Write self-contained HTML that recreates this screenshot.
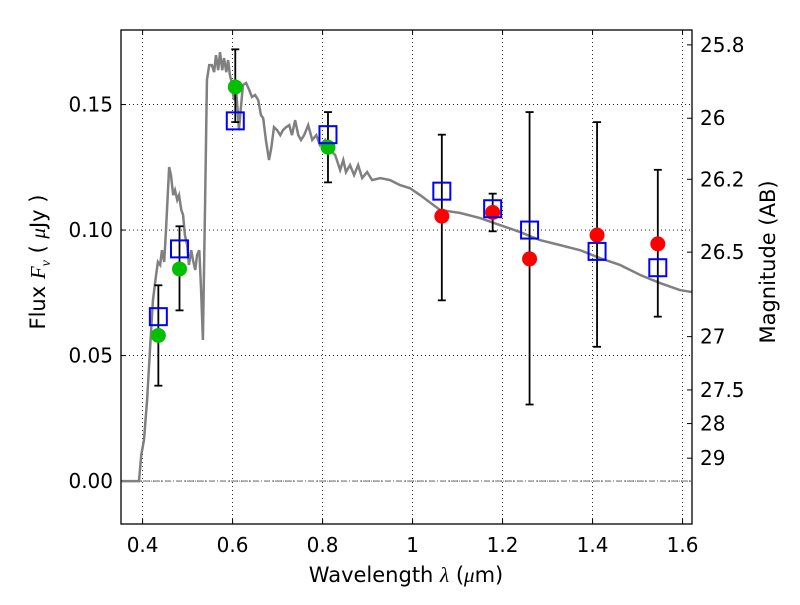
<!DOCTYPE html>
<html><head><meta charset="utf-8"><style>
body{margin:0;background:#fff}
svg{font-family:"DejaVu Sans","Liberation Sans",sans-serif}
</style></head><body>
<svg id="c" width="800" height="600"></svg>
<script>
const specX=[0.352,0.392,0.397,0.403,0.410,0.417,0.423,0.430,0.434,0.439,0.443,0.448,0.452,0.459,0.463,0.468,0.472,0.477,0.481,0.486,0.490,0.494,0.499,0.503,0.508,0.512,0.517,0.521,0.526,0.530,0.534,0.539,0.543,0.548,0.554,0.559,0.563,0.568,0.572,0.577,0.581,0.586,0.590,0.594,0.599,0.603,0.608,0.612,0.614,0.619,0.623,0.630,0.637,0.643,0.650,0.657,0.663,0.668,0.674,0.681,0.686,0.692,0.699,0.706,0.712,0.719,0.726,0.732,0.739,0.746,0.752,0.759,0.768,0.777,0.786,0.794,0.806,0.817,0.828,0.839,0.846,0.852,0.861,0.870,0.879,0.888,0.899,0.910,0.928,0.950,0.972,0.994,1.017,1.061,1.106,1.150,1.194,1.239,1.283,1.328,1.372,1.417,1.461,1.506,1.550,1.594,1.621];
const specY=[0,0,0.0104,0.0163,0.0323,0.0542,0.0721,0.0821,0.0873,0.0861,0.0920,0.0873,0.1,0.1251,0.1219,0.1139,0.1159,0.1120,0.1139,0.1080,0.1060,0.098,0.094,0.0861,0.0920,0.0880,0.0841,0.0900,0.0920,0.0761,0.0562,0.1120,0.1598,0.1657,0.1657,0.1629,0.1697,0.1637,0.1709,0.1637,0.1685,0.1629,0.1677,0.1618,0.1578,0.1518,0.1554,0.1458,0.1398,0.1498,0.1578,0.1586,0.1558,0.1530,0.1538,0.1518,0.1458,0.1446,0.1359,0.1279,0.1327,0.1410,0.1398,0.1378,0.1398,0.1410,0.1418,0.1378,0.1438,0.1378,0.1359,0.1378,0.1418,0.1359,0.1378,0.1339,0.1359,0.1319,0.1299,0.1239,0.1279,0.1231,0.1259,0.1219,0.1259,0.1207,0.1231,0.1199,0.1207,0.1199,0.1179,0.1167,0.1139,0.1080,0.1068,0.1048,0.1020,0.0992,0.0960,0.0940,0.0920,0.0888,0.0861,0.0821,0.0789,0.0761,0.0753];
const bandX=[0.435,0.482,0.606,0.812,1.065,1.178,1.26,1.41,1.545];
const obsF=[0.058,0.0845,0.157,0.133,0.1055,0.107,0.0885,0.098,0.0945];
const errLo=[0.038,0.068,0.143,0.119,0.072,0.0995,0.0305,0.0535,0.0655];
const errHi=[0.078,0.1015,0.172,0.147,0.138,0.1145,0.147,0.143,0.124];
const modelF=[0.0655,0.0925,0.1435,0.138,0.1155,0.1085,0.1,0.0915,0.085];
const xTicks=[0.4,0.6,0.8,1.0,1.2,1.4,1.6];
const xTickLabels=["0.4","0.6","0.8","1","1.2","1.4","1.6"];
const yTicks=[0,0.05,0.10,0.15];
const yTickLabels=["0.00","0.05","0.10","0.15"];
const magTicks=[25.8,26,26.2,26.5,27,27.5,28,29];
const magLabels=["25.8","26","26.2","26.5","27","27.5","28","29"];

const L=121,R=692,T=30,B=524;
const xmin=0.352,xmax=1.621,ymin=-0.0171,ymax=0.1797;
const X=v=>L+(v-xmin)/(xmax-xmin)*(R-L);
const Y=v=>B-(v-ymin)/(ymax-ymin)*(B-T);
const svg=document.getElementById('c');
const NS="http://www.w3.org/2000/svg";
function el(t,a,p){const e=document.createElementNS(NS,t);for(const k in a)e.setAttribute(k,a[k]);(p||svg).appendChild(e);return e;}
function txt(s,a){const e=el('text',a);e.textContent=s;return e;}

xTicks.forEach((v,i)=>{
  const g=el('line',{x1:X(v),x2:X(v),y1:T,y2:B,stroke:'#000','stroke-width':0.8,'stroke-dasharray':'1,3'});
  
  
  el('line',{x1:X(v),x2:X(v),y1:B,y2:B-5,stroke:'#000'});
  el('line',{x1:X(v),x2:X(v),y1:T,y2:T+5,stroke:'#000'});
  const t=txt(xTickLabels[i],{x:X(v),y:B+28,'font-size':20,'text-anchor':'middle'});
  
  
});
yTicks.forEach((v,i)=>{
  const g=el('line',{x1:L,x2:R,y1:Y(v),y2:Y(v),stroke:'#000','stroke-width':0.8,'stroke-dasharray':'1,3'});
  
  
  el('line',{x1:L,x2:L+5,y1:Y(v),y2:Y(v),stroke:'#000'});
  const t=txt(yTickLabels[i],{x:L-8,y:Y(v)+7,'font-size':20,'text-anchor':'end'});
  
  
});
const z=el('line',{x1:L,x2:R,y1:Y(0),y2:Y(0),stroke:'#555','stroke-width':0.8,'stroke-dasharray':'6,2,1,2'});


magTicks.forEach((m,i)=>{
  const f=Math.pow(10,(23.9-m)/2.5);
  el('line',{x1:R,x2:R-5,y1:Y(f),y2:Y(f),stroke:'#000'});
  const t=txt(magLabels[i],{x:R+8,y:Y(f)+7,'font-size':20});
  
  
});
const sp=el('polyline',{points:specX.map((x,i)=>X(x)+','+Y(specY[i])).join(' '),fill:'none',stroke:'#808080','stroke-width':2.5});


bandX.forEach((x,i)=>{
  const g=el('g',{stroke:'#000','stroke-width':1.8});
  
  
  el('line',{x1:X(x),x2:X(x),y1:Y(errLo[i]),y2:Y(errHi[i])},g);
  el('line',{x1:X(x)-4,x2:X(x)+4,y1:Y(errLo[i]),y2:Y(errLo[i])},g);
  el('line',{x1:X(x)-4,x2:X(x)+4,y1:Y(errHi[i]),y2:Y(errHi[i])},g);
});
bandX.forEach((x,i)=>{
  const c=el('circle',{cx:X(x),cy:Y(obsF[i]),r:7.5,fill:x<0.9?'#00c000':'#ff0000'});
  
  
});
bandX.forEach((x,i)=>{
  const r=el('rect',{x:X(x)-8.5,y:Y(modelF[i])-8.5,width:17,height:17,fill:'none',stroke:'#0000ff','stroke-width':2});
  
  
});
const fr=el('rect',{x:L,y:T,width:R-L,height:B-T,fill:'none',stroke:'#000','stroke-width':1.3});


const xl=txt('',{x:406,y:582,'font-size':21,'text-anchor':'middle'});
xl.innerHTML='Wavelength  <tspan font-family="Liberation Serif" font-style="italic">λ</tspan> (<tspan font-family="Liberation Serif" font-style="italic">μ</tspan>m)';


const yl=txt('',{transform:'translate(45,262) rotate(-90)','font-size':21,'text-anchor':'middle'});
yl.innerHTML='Flux  <tspan font-family="Liberation Serif" font-style="italic">F</tspan><tspan font-family="Liberation Serif" font-style="italic" font-size="14" dy="5">ν</tspan><tspan dy="-5">  (  </tspan><tspan font-family="Liberation Serif" font-style="italic">μ</tspan>Jy )';


const rl=txt('Magnitude (AB)',{transform:'translate(775,262) rotate(-90)','font-size':21,'text-anchor':'middle'});


</script>
</body></html>
